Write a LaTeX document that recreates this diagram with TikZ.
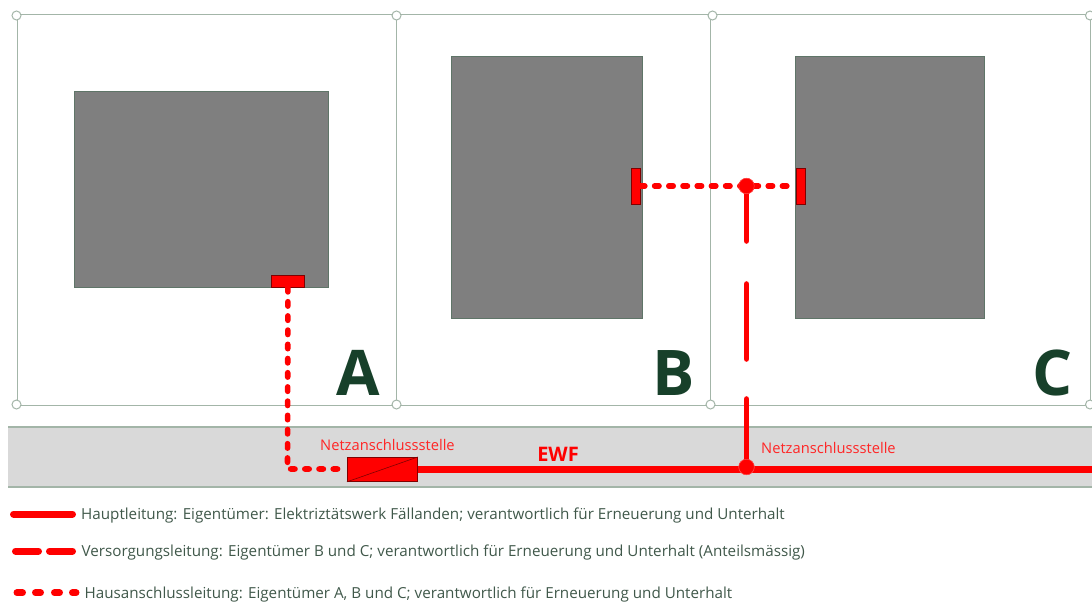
\documentclass[tikz,border=0pt]{standalone}
\usepackage{fontspec}
\setmainfont{Open Sans}
\definecolor{plotline}{HTML}{A3B5A8}
\definecolor{bld}{HTML}{7F7F7F}
\definecolor{bldedge}{HTML}{5F7568}
\definecolor{letter}{HTML}{17402A}
\definecolor{legendtext}{HTML}{40584A}
\definecolor{stripfill}{HTML}{D9D9D9}
\tikzset{
  plot/.style={draw=plotline,line width=1pt,fill=white},
  handle/.style={circle,draw=plotline,line width=1pt,fill=white,minimum size=9pt,inner sep=0pt},
  building/.style={draw=bldedge,line width=.8pt,fill=bld},
  redbox/.style={draw=black!50!red,line width=.8pt,fill=red},
  bigletter/.style={font=\fontsize{63}{65}\selectfont\bfseries,text=letter,inner sep=0pt},
  netz/.style={font=\fontsize{14.7}{16}\selectfont,text=red!85!white,inner sep=0pt,anchor=base west},
  legend/.style={font=\fontsize{15.2}{17}\selectfont,text=legendtext,inner sep=0pt,anchor=base west},
  mainline/.style={draw=red,line width=7pt},
  supply/.style={draw=red,line width=5.6pt,line cap=round,dash pattern=on 55pt off 43pt on 75pt off 40pt on 68pt off 100pt},
  houseline/.style={draw=red,line width=5.6pt,line cap=round,dash pattern=on 4.4pt off 9.8pt},
  reddot/.style={circle,fill=red,draw=red!70!white,line width=.5pt,inner sep=0pt,minimum size=15.5pt},
  legendmain/.style={draw=red,line width=7pt,line cap=round},
}
\begin{document}
\begin{tikzpicture}[x=1pt,y=-1pt]
\useasboundingbox (0,0) rectangle (1092,602);
% strip
\fill[stripfill] (8,427) rectangle (1092,487);
\draw[plotline,line width=1.2pt] (8,427) -- (1092,427) (8,487) -- (1092,487);
% plots
\draw[plot] (17,15) rectangle (396.5,405);
\draw[plot] (396.5,15) rectangle (710.5,405);
\draw[plot] (710.5,15) rectangle (1090,405);
\foreach \x/\n in {16.5/a,396.5/b,712.5/c,1090/d}{
  \node[handle] (top\n) at (\x,15.5) {};
}
\foreach \x/\n in {16.5/a,396.5/b,710.5/c,1090/d}{
  \node[handle] (bot\n) at (\x,404.5) {};
}
% buildings
\node[building,minimum width=253.5pt,minimum height=196pt,inner sep=0pt,anchor=north west] (bldA) at (74,91) {};
\node[building,minimum width=191pt,minimum height=261.5pt,inner sep=0pt,anchor=north west] (bldB) at (450.5,56) {};
\node[building,minimum width=189pt,minimum height=261.5pt,inner sep=0pt,anchor=north west] (bldC) at (794.5,56) {};
% letters
\node[bigletter,anchor=base] (lA) at (358.5,395.5) {A};
\node[bigletter,anchor=base] (lB) at (673.5,395.5) {B};
\node[bigletter,anchor=base] (lC) at (1052.5,395.5) {C};
% connection points
\node[redbox,minimum width=33pt,minimum height=12pt,inner sep=0pt,anchor=south west] (tA) at (271,287.5) {};
\node[redbox,minimum width=9pt,minimum height=36pt,inner sep=0pt] (tB) at (635.5,186) {};
\node[redbox,minimum width=9pt,minimum height=36pt,inner sep=0pt] (tC) at (800.5,186) {};
\coordinate (cornerA) at (287.5,469);
\coordinate (stripend) at (1092,469.5);
% junction box
\node[redbox,minimum width=70pt,minimum height=24pt,inner sep=0pt,anchor=north west] (nas) at (347,457) {};
% connectors
\draw[mainline] (nas.east |- stripend) -- (stripend);
\node[reddot] (jS) at (746.5,467) {};
\node[reddot] (jH) at (746.5,186) {};
\draw[houseline] (tA.south) -- (cornerA) -- (nas.west |- cornerA);
\draw[houseline] (tB.east) -- (tC.west);
\draw[supply] (jH.center) -- (jS.center);
\node[reddot] at (jH) {};
\node[reddot] at (jS) {};
\draw[black!50!red,line width=.6pt] (nas.south west) -- (nas.north east);
% labels
\node[netz] (n1) at (320,450) {Netzanschlussstelle};
\node[netz] (n2) at (761,453) {Netzanschlussstelle};
\node[inner sep=0pt,anchor=base,text=red,font=\fontsize{20}{21}\selectfont\bfseries] (ewf) at (558,461) {EWF};
% legend
\coordinate (l1a) at (13.5,514);\coordinate (l1b) at (72.5,514);
\coordinate (l2a) at (15.5,551);\coordinate (l2b) at (38.5,551);
\coordinate (l2c) at (49.5,551);\coordinate (l2d) at (72.5,551);
\coordinate (l3a) at (17,592.7);\coordinate (l3b) at (22.5,592.7);
\coordinate (l3c) at (35.5,592.7);\coordinate (l3d) at (40.5,592.7);
\coordinate (l3e) at (54.5,592.7);\coordinate (l3f) at (59.5,592.7);
\coordinate (l3g) at (72.5,592.7);\coordinate (l3h) at (76,592.7);
\draw[legendmain] (l1a) -- (l1b);
\draw[legendmain] (l2a) -- (l2b);
\draw[legendmain] (l2c) -- (l2d);
\draw[legendmain] (l3a) -- (l3b);
\draw[legendmain] (l3c) -- (l3d);
\draw[legendmain] (l3e) -- (l3f);
\draw[legendmain] (l3g) -- (l3h);
\node[legend] (t1) at (81,519) {Hauptleitung: Eigentümer: Elektriztätswerk Fällanden; verantwortlich für Erneuerung und Unterhalt};
\node[legend] (t2) at (81.5,556) {Versorgungsleitung: Eigentümer B und C; verantwortlich für Erneuerung und Unterhalt (Anteilsmässig)};
\node[legend] (t3) at (84.5,598) {Hausanschlussleitung: Eigentümer A, B und C; verantwortlich für Erneuerung und Unterhalt};
\end{tikzpicture}
\end{document}
